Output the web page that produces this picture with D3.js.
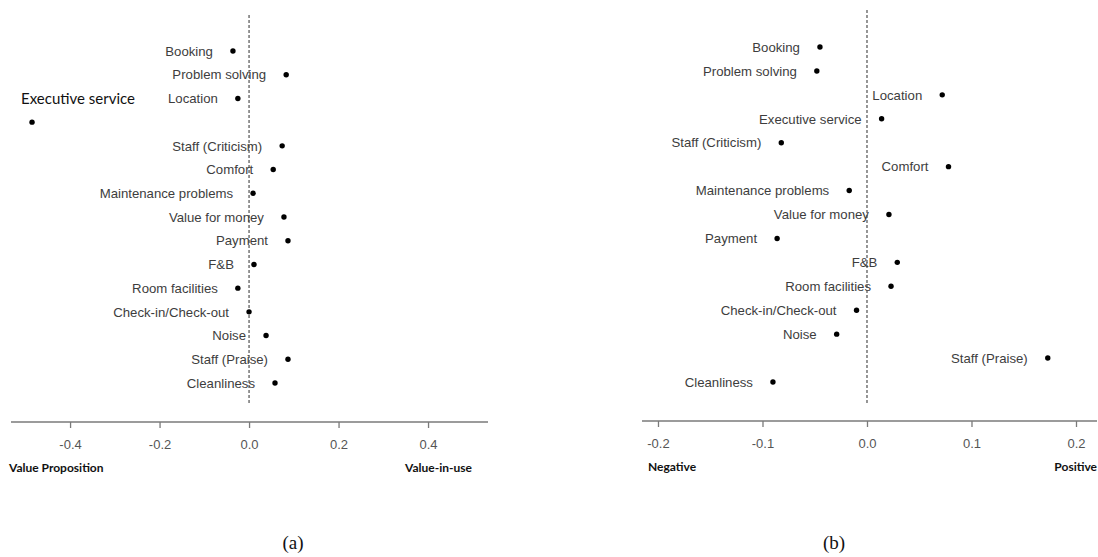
<!DOCTYPE html>
<html>
<head>
<meta charset="utf-8">
<script src="https://cdn.jsdelivr.net/npm/d3@7"></script>
<style>
  html, body { margin: 0; padding: 0; background: #fff; }
  svg { display: block; }
</style>
</head>
<body>
<svg id="chart" width="1098" height="557"></svg>
<script>
// ---- Data ----
const categories = ["Booking", "Problem solving", "Location", "Executive service", "Staff (Criticism)",
  "Comfort", "Maintenance problems", "Value for money", "Payment", "F&B", "Room facilities",
  "Check-in/Check-out", "Noise", "Staff (Praise)", "Cleanliness"];

const valuesA = [-0.036, 0.083, -0.025, -0.485, 0.074, 0.054, 0.009, 0.078, 0.087, 0.011, -0.025, 0.000, 0.038, 0.087, 0.058];
const valuesB = [-0.045, -0.048, 0.072, 0.014, -0.082, 0.078, -0.017, 0.021, -0.086, 0.029, 0.023, -0.010, -0.029, 0.173, -0.090];

const ticksA = [-0.4, -0.2, 0.0, 0.2, 0.4];
const ticksB = [-0.2, -0.1, 0.0, 0.1, 0.2];

const endLabelsA = ["Value Proposition", "Value-in-use"];
const endLabelsB = ["Negative", "Positive"];
const captions = ["(a)", "(b)"];

const svg = d3.select("#chart");

function panel(cfg) {
  const x = d3.scaleLinear().domain(cfg.domain).range(cfg.xRange);
  const y = d3.scalePoint().domain(categories).range(cfg.yRange);
  const g = svg.append("g");
  const rows = categories.map((c, i) => ({ cat: c, v: cfg.values[i] }));

  // dashed zero line
  g.append("line")
    .attr("x1", x(0)).attr("x2", x(0))
    .attr("y1", cfg.dashTop).attr("y2", cfg.axisY - 17)
    .attr("stroke", "#6a6a6a").attr("stroke-width", 1.4)
    .attr("stroke-dasharray", "3,2");

  // axis
  const axis = d3.axisBottom(x).tickValues(cfg.ticks).tickFormat(d => d.toFixed(1)).tickSize(6).tickPadding(12);
  const ag = g.append("g").attr("transform", `translate(0,${cfg.axisY})`).call(axis);
  ag.select(".domain").attr("stroke", "#7a7a7a").attr("stroke-width", 1.5)
    .attr("d", `M${cfg.xRange[0]},0H${cfg.xRange[1]}`);
  ag.selectAll(".tick line").attr("stroke", "#7a7a7a").attr("stroke-width", 1.3);
  ag.selectAll(".tick text").attr("fill", "#555").attr("font-size", 13)
    .attr("font-family", "Liberation Sans, Arial, sans-serif");

  // end labels
  g.append("text").text(cfg.endLabels[0])
    .attr("x", cfg.endLeftX).attr("y", cfg.axisY + 50)
    .attr("font-family", "Lato, sans-serif").attr("font-weight", "bold").attr("font-size", 12)
    .attr("fill", "#111");
  g.append("text").text(cfg.endLabels[1])
    .attr("x", cfg.endRightX).attr("y", cfg.axisY + 50).attr("text-anchor", "end")
    .attr("font-family", "Lato, sans-serif").attr("font-weight", "bold").attr("font-size", 12)
    .attr("fill", "#111");

  // points
  g.selectAll("circle.pt").data(rows).join("circle")
    .attr("class", "pt")
    .attr("cx", d => x(d.v)).attr("cy", d => y(d.cat))
    .attr("r", 2.7).attr("fill", "#000");

  // labels
  g.selectAll("text.lbl").data(rows.filter(d => d.cat !== cfg.special)).join("text")
    .attr("class", "lbl")
    .attr("x", d => x(d.v) - 20)
    .attr("y", d => y(d.cat))
    .attr("dy", "0.36em")
    .attr("text-anchor", "end")
    .attr("font-family", "Liberation Sans, Arial, sans-serif")
    .attr("font-size", 13.2)
    .attr("fill", "#3d3d3d")
    .text(d => d.cat);

  if (cfg.special) {
    const sp = rows.find(d => d.cat === cfg.special);
    g.append("text")
      .attr("x", x(sp.v) - 11)
      .attr("y", y(sp.cat) - 24)
      .attr("dy", "0.36em")
      .attr("font-family", "Lato, sans-serif")
      .attr("font-size", 15)
      .attr("fill", "#111")
      .text(sp.cat);
  }

  // caption
  g.append("text").text(cfg.caption)
    .attr("x", cfg.captionX).attr("y", 549).attr("text-anchor", "middle")
    .attr("font-family", "Liberation Serif, Times New Roman, serif")
    .attr("font-size", 19).attr("fill", "#111");
}

panel({
  values: valuesA, domain: [-0.532, 0.534], xRange: [11, 488], yRange: [51, 383],
  ticks: ticksA, axisY: 422, dashTop: 15, endLabels: endLabelsA,
  endLeftX: 9, endRightX: 472, caption: captions[0], captionX: 293,
  special: "Executive service"
});

panel({
  values: valuesB, domain: [-0.2153, 0.2201], xRange: [642, 1097], yRange: [47, 382],
  ticks: ticksB, axisY: 421, dashTop: 10, endLabels: endLabelsB,
  endLeftX: 648, endRightX: 1097, caption: captions[1], captionX: 834
});
</script>
</body>
</html>
